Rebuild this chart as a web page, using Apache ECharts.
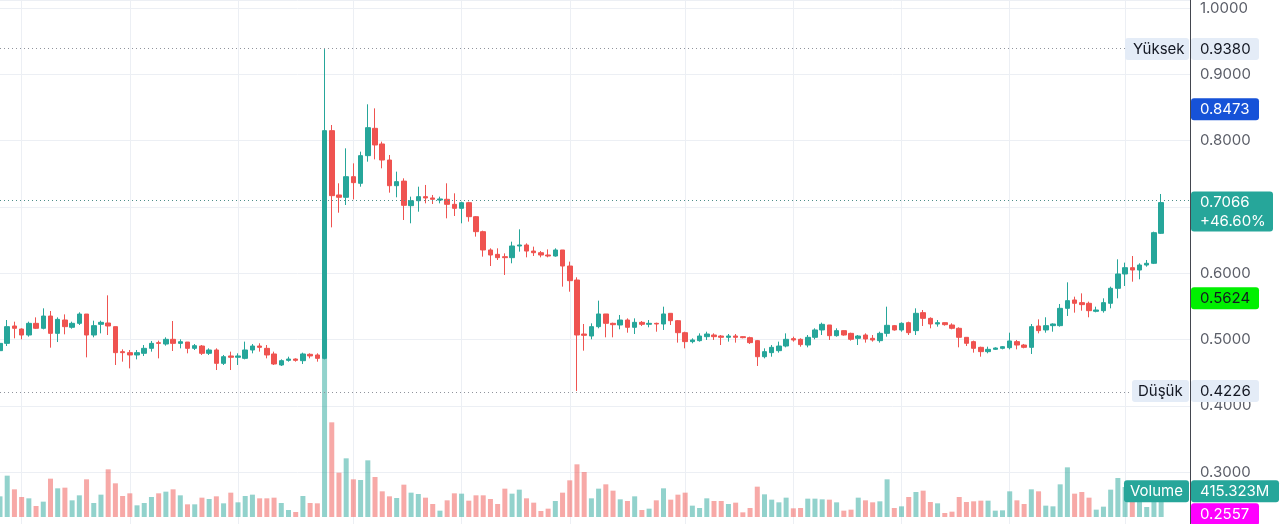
<!DOCTYPE html>
<html><head><meta charset="utf-8">
<script src="https://cdn.jsdelivr.net/npm/echarts@6/dist/echarts.min.js"></script>
<style>html,body{margin:0;padding:0;background:#fff;overflow:hidden}#c{width:1280px;height:524px}</style>
</head><body><div id="c"></div><script>
const opens = [0.4834,0.4944,0.5206,0.5160,0.5070,0.5246,0.5171,0.5356,0.5095,0.5296,0.5186,0.5246,0.5386,0.5070,0.5231,0.5251,0.5196,0.4819,0.4804,0.4769,
0.4794,0.4869,0.4954,0.4934,0.5005,0.4944,0.4964,0.4869,0.4904,0.4794,0.4844,0.4643,0.4754,0.4734,0.4718,0.4844,0.4904,0.4869,0.4784,0.4618,
0.4688,0.4708,0.4683,0.4779,0.4769,0.4718,0.8151,0.7181,0.7146,0.7457,0.7357,0.7774,0.8186,0.7950,0.7708,0.7321,0.7390,0.7020,0.7095,0.7156,
0.7136,0.7105,0.7116,0.7040,0.6980,0.7065,0.6854,0.6628,0.6352,0.6286,0.6251,0.6236,0.6412,0.6427,0.6336,0.6311,0.6276,0.6261,0.6352,0.6110,
0.5899,0.5085,0.5055,0.5196,0.5387,0.5246,0.5221,0.5296,0.5186,0.5261,0.5231,0.5246,0.5236,0.5397,0.5286,0.5105,0.4970,0.4985,0.5045,0.5070,
0.5055,0.5035,0.5055,0.5045,0.5030,0.4985,0.4743,0.4804,0.4834,0.4904,0.5015,0.5005,0.4919,0.5035,0.5146,0.5221,0.5060,0.5136,0.5095,0.5020,
0.5070,0.5020,0.4985,0.5095,0.5211,0.5146,0.5256,0.5136,0.5407,0.5321,0.5236,0.5256,0.5221,0.5171,0.5035,0.4970,0.4884,0.4819,0.4854,0.4869,
0.4879,0.4970,0.4919,0.4884,0.5206,0.5146,0.5211,0.5211,0.5472,0.5598,0.5558,0.5548,0.5427,0.5437,0.5548,0.5774,0.5990,0.6085,0.6050,0.6125,
0.6151,0.6603];
const closes = [0.4944,0.5196,0.5171,0.5070,0.5246,0.5171,0.5356,0.5095,0.5306,0.5196,0.5246,0.5386,0.5070,0.5211,0.5261,0.5206,0.4804,0.4804,0.4769,0.4804,
0.4869,0.4944,0.4944,0.5005,0.4944,0.4969,0.4869,0.4909,0.4794,0.4844,0.4643,0.4743,0.4734,0.4754,0.4844,0.4904,0.4884,0.4769,0.4633,0.4683,
0.4708,0.4688,0.4784,0.4754,0.4718,0.8151,0.7171,0.7146,0.7457,0.7367,0.7774,0.8196,0.7935,0.7708,0.7321,0.7382,0.7025,0.7095,0.7156,0.7136,
0.7116,0.7121,0.7040,0.6980,0.7065,0.6854,0.6628,0.6352,0.6276,0.6236,0.6236,0.6412,0.6427,0.6336,0.6311,0.6276,0.6261,0.6352,0.6110,0.5889,
0.5070,0.5065,0.5196,0.5387,0.5246,0.5226,0.5296,0.5186,0.5261,0.5231,0.5246,0.5236,0.5387,0.5286,0.5105,0.4970,0.4995,0.5055,0.5085,0.5045,
0.5035,0.5055,0.5035,0.5030,0.4955,0.4743,0.4819,0.4884,0.4904,0.5005,0.4995,0.4925,0.5035,0.5146,0.5231,0.5060,0.5136,0.5070,0.5005,0.5055,
0.5010,0.4995,0.5095,0.5216,0.5146,0.5246,0.5105,0.5397,0.5321,0.5236,0.5256,0.5226,0.5171,0.5035,0.4945,0.4869,0.4819,0.4854,0.4874,0.4894,
0.4980,0.4919,0.4884,0.5196,0.5136,0.5211,0.5236,0.5472,0.5588,0.5548,0.5528,0.5437,0.5447,0.5558,0.5774,0.5990,0.6085,0.6050,0.6125,0.6151,
0.6613,0.7066];
const lows = [0.4819,0.4904,0.5020,0.5005,0.5045,0.5160,0.5155,0.4879,0.4964,0.5080,0.5165,0.5221,0.4733,0.5035,0.5095,0.5070,0.4618,0.4668,0.4567,0.4703,
0.4753,0.4819,0.4718,0.4909,0.4829,0.4869,0.4794,0.4844,0.4769,0.4769,0.4542,0.4618,0.4542,0.4618,0.4703,0.4794,0.4819,0.4718,0.4618,0.4603,
0.4668,0.4668,0.4633,0.4718,0.4668,0.4703,0.6693,0.6914,0.7030,0.7115,0.7306,0.7683,0.7718,0.7583,0.7216,0.7146,0.6804,0.6754,0.6929,0.7055,
0.7045,0.7055,0.6829,0.6864,0.6754,0.6779,0.6553,0.6251,0.6110,0.6201,0.5975,0.6151,0.6327,0.6241,0.6261,0.6241,0.6241,0.6251,0.5799,0.5723,
0.4226,0.4834,0.5005,0.5171,0.5035,0.5035,0.5156,0.5105,0.5085,0.5206,0.5186,0.5120,0.5146,0.5221,0.4955,0.4869,0.4945,0.4970,0.4995,0.4995,
0.4919,0.4970,0.4955,0.5020,0.4935,0.4603,0.4718,0.4743,0.4804,0.4884,0.4970,0.4894,0.4884,0.5005,0.5070,0.4995,0.5045,0.5060,0.4985,0.4919,
0.4955,0.4970,0.4955,0.5045,0.5136,0.5120,0.5070,0.5070,0.5206,0.5171,0.5196,0.5211,0.5156,0.4884,0.4904,0.4804,0.4743,0.4794,0.4844,0.4854,
0.4854,0.4854,0.4869,0.4784,0.5095,0.5105,0.5120,0.5196,0.5357,0.5407,0.5437,0.5337,0.5412,0.5407,0.5472,0.5623,0.5809,0.5874,0.5910,0.6100,
0.6140,0.6593];
const highs = [0.4969,0.5296,0.5271,0.5171,0.5271,0.5336,0.5472,0.5432,0.5336,0.5381,0.5271,0.5412,0.5386,0.5286,0.5286,0.5668,0.5196,0.4854,0.4844,0.4844,
0.4919,0.4980,0.4985,0.5035,0.5281,0.5005,0.4964,0.4934,0.4919,0.4869,0.4869,0.4769,0.4819,0.4794,0.4970,0.4934,0.4945,0.4919,0.4819,0.4703,
0.4743,0.4718,0.4804,0.4794,0.4794,0.9380,0.8236,0.7357,0.7884,0.7658,0.7834,0.8548,0.8487,0.7985,0.7784,0.7533,0.7432,0.7156,0.7306,0.7332,
0.7181,0.7156,0.7357,0.7206,0.7080,0.7080,0.6864,0.6643,0.6377,0.6377,0.6301,0.6477,0.6663,0.6452,0.6402,0.6336,0.6361,0.6377,0.6352,0.6176,
0.5940,0.5236,0.5246,0.5588,0.5387,0.5256,0.5372,0.5321,0.5321,0.5281,0.5296,0.5256,0.5497,0.5397,0.5296,0.5120,0.5020,0.5095,0.5120,0.5095,
0.5070,0.5085,0.5085,0.5050,0.5045,0.4995,0.4869,0.4919,0.4970,0.5095,0.5045,0.5020,0.5070,0.5171,0.5256,0.5221,0.5171,0.5141,0.5105,0.5070,
0.5095,0.5070,0.5120,0.5497,0.5221,0.5261,0.5271,0.5472,0.5447,0.5336,0.5296,0.5261,0.5246,0.5186,0.5035,0.4985,0.4894,0.4894,0.4884,0.4904,
0.5105,0.4995,0.4935,0.5236,0.5306,0.5337,0.5246,0.5537,0.5864,0.5648,0.5698,0.5573,0.5497,0.5623,0.5799,0.6211,0.6161,0.6261,0.6151,0.6201,
0.6628,0.7196];
// volume in millions
const volumes = [310,620,415,300,280,165,230,575,430,440,250,325,565,210,335,715,505,315,355,175,
210,300,355,380,415,325,190,190,290,270,310,205,365,220,315,335,280,280,290,210,
105,75,315,210,205,2700,1420,665,880,565,555,850,600,385,310,285,485,365,345,290,
195,95,250,355,350,245,325,325,270,195,425,350,410,280,215,90,125,240,365,550,
790,675,280,425,490,395,265,240,310,105,125,250,430,260,335,365,170,135,280,240,
240,195,215,70,135,455,340,260,220,290,130,135,275,275,265,260,220,95,110,290,
250,220,235,565,135,160,300,375,395,225,205,60,80,300,225,235,245,245,95,100,
385,250,195,415,385,170,160,490,745,350,375,290,110,155,410,585,450,330,300,150,
375,415.323];
const gridIdx = [3,18,33,49,64,79,95,110,125,140,156];
const categories = Array.from({length: 166}, (_, i) => String(i + 1));
const priceTags = {high: 0.9380, low: 0.4226, last: 0.7066, blue: 0.8473, lime: 0.5624, magenta: 0.2557};
const changeText = '+46.60%';
const volumeText = '415.323M';

const UP = '#26a69a', DOWN = '#ef5350';
const UPV = 'rgba(38,166,154,0.5)', DOWNV = 'rgba(239,83,80,0.5)';
const FONT = 'Inter, Roboto, sans-serif';
const FS = 15;

const chart = echarts.init(document.getElementById('c'), null, {renderer: 'canvas'});
const candleData = opens.map((o, i) => [o, closes[i], lows[i], highs[i]]);
const volData = volumes.map((v, i) => ({value: v, itemStyle: {color: closes[i] >= opens[i] ? UPV : DOWNV}}));

chart.setOption({
  animation: false,
  backgroundColor: '#ffffff',
  grid: [
    {left: -2.2, right: 90, top: 0, bottom: 0},
    {left: -2.2, right: 90, top: 317, height: 200}
  ],
  xAxis: [
    {type: 'category', gridIndex: 0, data: categories, boundaryGap: false,
     axisLine: {show: false}, axisTick: {show: false}, axisLabel: {show: false},
     splitLine: {show: true, interval: (i) => gridIdx.includes(i), lineStyle: {color: '#eceff4', width: 1}}},
    {type: 'category', gridIndex: 1, data: categories, boundaryGap: false, show: false}
  ],
  yAxis: [
    {type: 'value', gridIndex: 0, position: 'right', min: 0.22207, max: 1.01206,
     splitNumber: 8, minInterval: 0.1, maxInterval: 0.1,
     axisLine: {show: true, lineStyle: {color: '#43464f', width: 1}},
     axisTick: {show: false},
     axisLabel: {color: '#5b5e68', fontSize: FS, fontFamily: FONT, margin: 10,
       showMaxLabel: false, showMinLabel: false, formatter: (v) => v.toFixed(4)},
     splitLine: {show: true, lineStyle: {color: '#eceff4', width: 1}}},
    {type: 'value', gridIndex: 1, min: 0, max: 3000, show: false}
  ],
  series: [
    {type: 'bar', xAxisIndex: 1, yAxisIndex: 1, data: volData, barWidth: 5, z: 1, silent: true},
    {type: 'candlestick', xAxisIndex: 0, yAxisIndex: 0, data: candleData, barWidth: 5, z: 3, silent: true,
     itemStyle: {color: UP, color0: DOWN, borderColor: UP, borderColor0: DOWN, borderWidth: 1},
     markLine: {silent: true, symbol: ['none', 'none'], label: {show: false}, animation: false,
       data: [
         {yAxis: priceTags.high, lineStyle: {color: '#8f939c', type: [1, 3], width: 1}},
         {yAxis: priceTags.low, lineStyle: {color: '#8f939c', type: [1, 3], width: 1}},
         {yAxis: priceTags.last, lineStyle: {color: '#4f8f8a', type: [1, 3], width: 1}}
       ]}}
  ]
});

function py(v) { return chart.convertToPixel({yAxisIndex: 0}, v); }
function vy(v) { return chart.convertToPixel({yAxisIndex: 1}, v); }
function box(x, y, w, h, fill) {
  return {type: 'rect', z: 100, shape: {x: x, y: y, width: w, height: h, r: 3}, style: {fill: fill}};
}
function txt(x, y, s, color) {
  return {type: 'text', z: 101, style: {x: x, y: y, text: s, fill: color, font: FS + 'px ' + FONT,
    textAlign: 'left', textVerticalAlign: 'middle', verticalAlign: 'middle'}};
}
const els = [];
const LB = '#e4ecf7', DARK = '#131722';
let y = py(priceTags.high);
els.push(box(1125, y - 11, 64, 22, LB), txt(1133, y, 'Yüksek', DARK));
els.push(box(1191, y - 11, 68, 22, LB), txt(1200, y, priceTags.high.toFixed(4), DARK));
y = py(priceTags.blue);
els.push(box(1191, y - 11, 68, 22, '#1652d8'), txt(1200, y, priceTags.blue.toFixed(4), '#ffffff'));
y = py(priceTags.last);
els.push(box(1191, y - 11, 82, 40, UP), txt(1200, y, priceTags.last.toFixed(4), '#ffffff'), txt(1200, y + 19, changeText, '#ffffff'));
y = py(priceTags.lime);
els.push(box(1191, y - 11, 68, 22, '#00f000'), txt(1200, y, priceTags.lime.toFixed(4), DARK));
y = py(priceTags.low);
els.push(box(1132, y - 11, 57, 22, LB), txt(1138, y, 'Düşük', DARK));
els.push(box(1191, y - 11, 68, 22, LB), txt(1200, y, priceTags.low.toFixed(4), DARK));
y = vy(volumes[volumes.length - 1]) + 2;
els.push(box(1124, y - 11, 65, 22, UP), txt(1130, y, 'Volume', '#ffffff'));
els.push(box(1191, y - 11, 88, 22, UP), txt(1200, y, volumeText, '#ffffff'));
const my = y + 12;
els.push(box(1191, my, 68, 22, '#ff00ff'), txt(1200, my + 11, priceTags.magenta.toFixed(4), '#ffffff'));
chart.setOption({graphic: {elements: els}});
</script></body></html>
